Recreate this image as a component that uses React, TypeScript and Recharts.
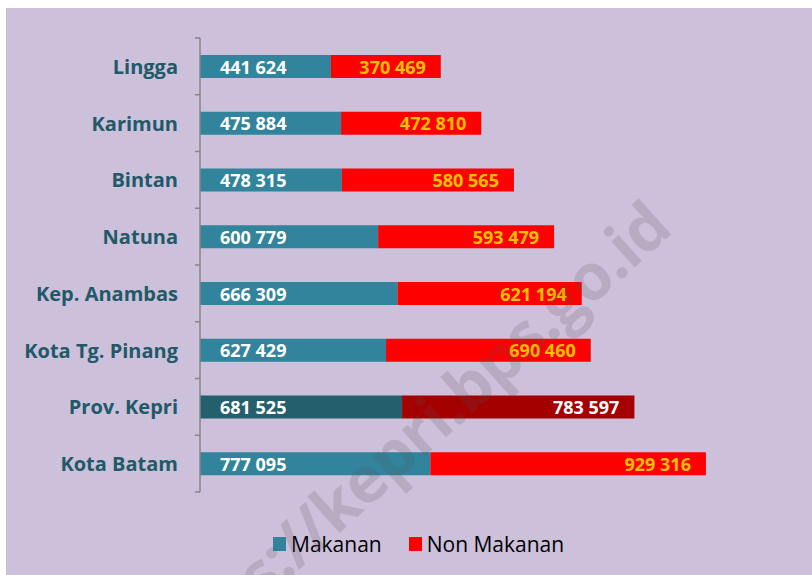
import React from 'react';
import { Bar, BarChart, Cell, LabelList, XAxis, YAxis } from 'recharts';

const regions = [
  'Lingga',
  'Karimun',
  'Bintan',
  'Natuna',
  'Kep. Anambas',
  'Kota Tg. Pinang',
  'Prov. Kepri',
  'Kota Batam',
];
const makanan = [441624, 475884, 478315, 600779, 666309, 627429, 681525, 777095];
const nonMakanan = [370469, 472810, 580565, 593479, 621194, 690460, 783597, 929316];
const highlight = 'Prov. Kepri';

const data = regions.map((name, i) => ({
  name,
  makanan: makanan[i],
  nonMakanan: nonMakanan[i],
}));

const W = 812;
const H = 575;
const MARGIN = { top: 38, right: 19, bottom: 83, left: 0 };
const AXIS_X = 200;
const BAND = (H - MARGIN.top - MARGIN.bottom) / regions.length;

const TEAL = '#31849b';
const TEAL_DARK = '#245f6d';
const RED = '#ff0000';
const RED_DARK = '#a50000';
const FONT = '"Open Sans", "Noto Sans", sans-serif';

const fmt = (v: number) => String(v).replace(/\B(?=(\d{3})+(?!\d))/g, ' ');

const RegionTick = (props: any) => {
  const { x, y, payload, index } = props;
  return (
    <g>
      <text
        x={x}
        y={y}
        textAnchor="end"
        dominantBaseline="central"
        fill="#215968"
        fontFamily={FONT}
        fontWeight="bold"
        fontSize={20}
      >
        {payload.value}
      </text>
      <line x1={AXIS_X - 5} x2={AXIS_X} y1={y - BAND / 2} y2={y - BAND / 2} stroke="#868686" strokeWidth={1.5} />
      {index === regions.length - 1 && (
        <line x1={AXIS_X - 5} x2={AXIS_X} y1={y + BAND / 2} y2={y + BAND / 2} stroke="#868686" strokeWidth={1.5} />
      )}
    </g>
  );
};

const makananLabel = (props: any) => {
  const { x, y, height, value } = props;
  return (
    <text
      x={x + 20}
      y={y + height / 2}
      dominantBaseline="central"
      fill="#ffffff"
      fontFamily={FONT}
      fontWeight="bold"
      fontSize={18}
    >
      {fmt(value)}
    </text>
  );
};

const nonMakananLabel = (props: any) => {
  const { x, y, width, height, value, index } = props;
  return (
    <text
      x={x + width - 15}
      y={y + height / 2}
      textAnchor="end"
      dominantBaseline="central"
      fill={regions[index] === highlight ? '#ffffff' : '#ffc000'}
      fontFamily={FONT}
      fontWeight="bold"
      fontSize={18}
    >
      {fmt(value)}
    </text>
  );
};

const LegendItem = ({ color, label }: { color: string; label: string }) => (
  <div style={{ display: 'flex', alignItems: 'center' }}>
    <div style={{ width: 13, height: 14, background: color, marginRight: 5 }} />
    <span>{label}</span>
  </div>
);

export default function App() {
  return (
    <div style={{ position: 'absolute', left: 0, top: 0, width: W, height: H, overflow: 'hidden', background: '#fff' }}>
      <div style={{ position: 'absolute', left: 6, top: 8, right: 0, bottom: 0, background: '#ccc0da' }} />
      <div style={{ position: 'absolute', left: 0, top: 0 }}>
        <BarChart width={W} height={H} data={data} layout="vertical" margin={MARGIN} barSize={23}>
          <XAxis type="number" domain={[0, 2000000]} hide />
          <YAxis
            type="category"
            dataKey="name"
            width={AXIS_X}
            axisLine={{ stroke: '#868686', strokeWidth: 1.5 }}
            tickLine={false}
            tickSize={0}
            tickMargin={22}
            tick={<RegionTick />}
            interval={0}
          />
          <Bar dataKey="makanan" stackId="a" fill={TEAL} isAnimationActive={false}>
            {data.map((d) => (
              <Cell key={d.name} fill={d.name === highlight ? TEAL_DARK : TEAL} />
            ))}
            <LabelList dataKey="makanan" content={makananLabel} />
          </Bar>
          <Bar dataKey="nonMakanan" stackId="a" fill={RED} isAnimationActive={false}>
            {data.map((d) => (
              <Cell key={d.name} fill={d.name === highlight ? RED_DARK : RED} />
            ))}
            <LabelList dataKey="nonMakanan" content={nonMakananLabel} />
          </Bar>
        </BarChart>
      </div>
      <div
        style={{
          position: 'absolute',
          top: 530,
          left: 273,
          display: 'flex',
          gap: 27,
          fontFamily: FONT,
          fontSize: 21,
          color: '#000',
          lineHeight: '28px',
        }}
      >
        <LegendItem color={TEAL} label="Makanan" />
        <LegendItem color={RED} label="Non Makanan" />
      </div>
      <div
        style={{
          position: 'absolute',
          right: 154,
          top: 182,
          height: 64,
          lineHeight: '64px',
          transformOrigin: 'right center',
          transform: 'rotate(-42deg)',
          whiteSpace: 'nowrap',
          fontFamily: FONT,
          fontWeight: 'bold',
          fontSize: 64,
          letterSpacing: -1,
          color: 'rgba(90, 80, 90, 0.18)',
          pointerEvents: 'none',
        }}
      >
        https://kepri.bps.go.id
      </div>
    </div>
  );
}
